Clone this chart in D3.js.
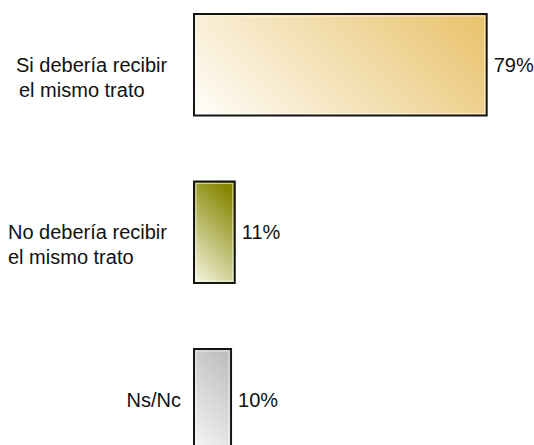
<!DOCTYPE html>
<html lang="en">
<head>
    <meta charset="UTF-8">
    <title>Mismo trato</title>
    <style>
        body { margin: 0; background: #fff; }
        text { font-family: "Liberation Sans", Arial, sans-serif; font-size: 20px; fill: #111; }
    </style>
    <script type="text/javascript" src="https://cdn.jsdelivr.net/npm/d3@7"></script>
</head>
<body>
    <script type="text/javascript">

       var categories = ["Si debería recibir el mismo trato", "No debería recibir el mismo trato", "Ns/Nc"];
       var labelLines = [["Si debería recibir", " el mismo trato"], ["No debería recibir", "el mismo trato"], ["Ns/Nc"]];
       var values = [79, 11, 10];
       var pctLabels = ["79%", "11%", "10%"];

       var width = 534, height = 445;

       // colours: light end (bottom left) -> dark end (top right), and where the dark end is reached
       var gradStops = [["#fffefb", "#e8c169", 100], ["#f7f7e4", "#858500", 90], ["#f6f6f6", "#bababa", 100]];

       var xScale = d3.scaleLinear()
                      .domain([0, 100])
                      .range([194, 564.5]);
       var yScale = d3.scaleBand()
                      .domain(categories)
                      .range([14, 450.5])
                      .paddingInner(0.394)
                      .paddingOuter(0);

       var svg = d3.select("body")
                   .append("svg")
                   .attr("width", width)
                   .attr("height", height);

       var defs = svg.append("defs");
       categories.forEach(function(c, i){
           var x0 = xScale(0), y0 = yScale(c) + yScale.bandwidth();
           var w = xScale(values[i]) - xScale(0), h = yScale.bandwidth();
           var k = (w + h) / 2;
           var g = defs.append("linearGradient")
                       .attr("id", "grad" + i)
                       .attr("gradientUnits", "userSpaceOnUse")
                       .attr("x1", x0).attr("y1", y0)
                       .attr("x2", x0 + k).attr("y2", y0 - k);
           g.append("stop").attr("offset", "0%").attr("stop-color", gradStops[i][0]);
           g.append("stop").attr("offset", gradStops[i][2] + "%").attr("stop-color", gradStops[i][1]);
       });

       var bars = svg.selectAll("g.bar")
                     .data(categories)
                     .enter()
                     .append("g")
                     .attr("class", "bar");

       bars.append("rect")
           .attr("x", xScale(0))
           .attr("y", function(d){ return yScale(d); })
           .attr("width", function(d, i){ return xScale(values[i]) - xScale(0); })
           .attr("height", yScale.bandwidth())
           .style("fill", function(d, i){ return "url(#grad" + i + ")"; })
           .style("stroke", "#151515")
           .style("stroke-width", 2);

       // thin light line just inside the border
       bars.append("rect")
           .attr("x", xScale(0) + 2)
           .attr("y", function(d){ return yScale(d) + 2; })
           .attr("width", function(d, i){ return xScale(values[i]) - xScale(0) - 4; })
           .attr("height", yScale.bandwidth() - 4)
           .style("fill", "none")
           .style("stroke", "#ffffff")
           .style("stroke-opacity", 0.6)
           .style("stroke-width", 1);

       bars.append("text")
           .attr("x", function(d, i){ return xScale(values[i]) + 7; })
           .attr("y", function(d){ return yScale(d) + yScale.bandwidth() / 2; })
           .attr("dy", "0.36em")
           .text(function(d, i){ return pctLabels[i]; });

       // category labels, first line sits level with the bar centre
       var labelX = [16, 8, 181];
       var labelAnchor = ["start", "start", "end"];
       bars.append("text")
           .attr("text-anchor", function(d, i){ return labelAnchor[i]; })
           .attr("y", function(d){ return yScale(d) + yScale.bandwidth() / 2; })
           .each(function(d, i){
               var t = d3.select(this);
               labelLines[i].forEach(function(line, j){
                   t.append("tspan")
                    .attr("x", labelX[i] + (line[0] === " " ? 3 : 0))
                    .attr("dy", j === 0 ? "0.36em" : "1.23em")
                    .text(line.trim());
               });
           });

    </script>
</body>
</html>
